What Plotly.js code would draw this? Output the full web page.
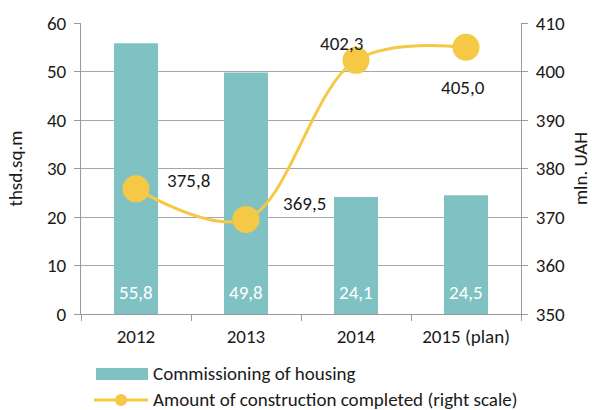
<!DOCTYPE html>
<html><head><meta charset="utf-8">
<script src="https://cdn.plot.ly/plotly-3.0.1.min.js"></script>
<style>body{margin:0;padding:0;background:#fff}#chart{width:592px;height:410px}</style>
</head><body><div id="chart"></div>
<script>
const categories = ["2012", "2013", "2014", "2015 (plan)"];
const housing = [55.8, 49.8, 24.1, 24.5];
const construction = [375.8, 369.5, 402.3, 405.0];
const housingName = "Commissioning of housing";
const constructionName = "Amount of construction completed (right scale)";

const fmt = v => v.toFixed(1).replace('.', ',');
const FONT = "Carlito, 'Open Sans', sans-serif";
const FS = 19;
const BAR_COLOR = '#80C2C3';
const LINE_COLOR = '#F5C945';
const lineLabelOffsets = [[52, 8], [58, 16], [-15, 17], [-3, -40]];

// plot area in pixels (for the hand-drawn legend below the chart)
const M = {l: 81, r: 71, t: 23, b: 96};
const PW = 592 - M.l - M.r, PH = 410 - M.t - M.b;
const px = x => (x - M.l) / PW;
const py = y => (410 - M.b - y) / PH;

const annotations = [];
categories.forEach((c, i) => {
  annotations.push({x: i, y: 0, xref: 'x', yref: 'y', text: fmt(housing[i]), showarrow: false,
    yanchor: 'middle', yshift: 22, font: {color: '#ffffff', size: FS, family: FONT}});
  annotations.push({x: i, y: construction[i], xref: 'x', yref: 'y2', text: fmt(construction[i]), showarrow: false,
    xshift: lineLabelOffsets[i][0], yshift: lineLabelOffsets[i][1], font: {color: '#1a1a1a', size: FS, family: FONT}});
});
// legend texts
annotations.push({xref: 'paper', yref: 'paper', x: px(152), y: py(373), xanchor: 'left', yanchor: 'middle',
  text: housingName, showarrow: false, borderpad: 0, font: {size: FS, family: FONT, color: '#1a1a1a'}});
annotations.push({xref: 'paper', yref: 'paper', x: px(152), y: py(399), xanchor: 'left', yanchor: 'middle',
  text: constructionName, showarrow: false, borderpad: 0, font: {size: FS, family: FONT, color: '#1a1a1a'}});

const shapes = [
  {type: 'rect', xref: 'paper', yref: 'paper', x0: px(96), x1: px(148), y0: py(368), y1: py(380),
   fillcolor: BAR_COLOR, line: {width: 0}},
  {type: 'line', xref: 'paper', yref: 'paper', x0: px(94), x1: px(148), y0: py(400), y1: py(400),
   line: {color: LINE_COLOR, width: 3}},
  {type: 'circle', xref: 'paper', yref: 'paper', x0: px(115), x1: px(127), y0: py(394), y1: py(406),
   fillcolor: LINE_COLOR, line: {width: 0}}
];

const data = [
  {type: 'bar', x: categories, y: housing, name: housingName, marker: {color: BAR_COLOR}, width: 0.4, yaxis: 'y'},
  {type: 'scatter', mode: 'lines+markers', x: categories, y: construction, name: constructionName, yaxis: 'y2',
   line: {color: LINE_COLOR, width: 3, shape: 'spline', smoothing: 1},
   marker: {color: LINE_COLOR, size: 27}}
];

const axisCommon = {showline: true, linecolor: '#9a9a9a', linewidth: 1, ticks: 'outside', ticklen: 6, tickcolor: '#9a9a9a',
  tickfont: {size: FS, color: '#1a1a1a', family: FONT}, zeroline: false};

const layout = {
  width: 592, height: 410,
  margin: {l: M.l, r: M.r, t: M.t, b: M.b, autoexpand: false},
  paper_bgcolor: '#ffffff', plot_bgcolor: '#ffffff',
  font: {family: FONT, color: '#1a1a1a'},
  xaxis: Object.assign({}, axisCommon, {type: 'category', categoryorder: 'array', categoryarray: categories,
    range: [-0.5, categories.length - 0.5], autorange: false, tickangle: 0, ticklabelstandoff: 5,
    tickson: 'boundaries', showgrid: false}),
  yaxis: Object.assign({}, axisCommon, {range: [0, 60], dtick: 10, showgrid: true, gridcolor: '#a6a6a6', gridwidth: 1,
    ticklabelstandoff: 4, title: {text: 'thsd.sq.m', font: {size: FS, family: FONT}, standoff: 19}}),
  yaxis2: Object.assign({}, axisCommon, {overlaying: 'y', side: 'right', range: [350, 410], dtick: 10, showgrid: false,
    ticklabelstandoff: 4, title: {text: 'mln. UAH', font: {size: FS, family: FONT}, standoff: 10}}),
  showlegend: false,
  shapes: shapes,
  annotations: annotations
};

Plotly.newPlot('chart', data, layout, {displayModeBar: false, staticPlot: true});
</script></body></html>
